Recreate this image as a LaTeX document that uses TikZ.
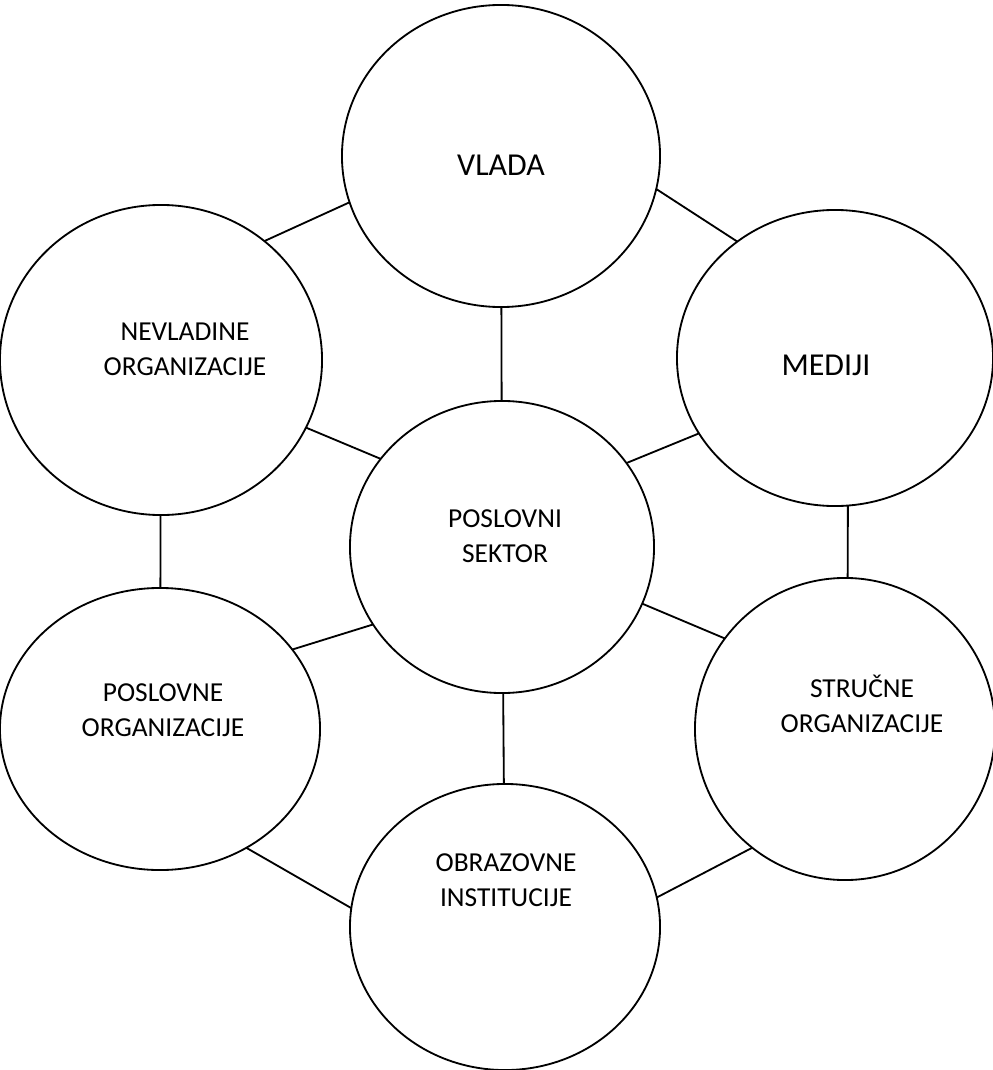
\documentclass[tikz,border=0pt]{standalone}
\usepackage{fontspec}
\setmainfont{Carlito}
\usetikzlibrary{shapes.geometric}
\tikzset{sector/.style={draw,ellipse,inner sep=0pt,outer sep=0pt,line width=1.3pt},
         caption/.style={align=center,font=\fontsize{19.5}{25}\selectfont},
         bigcaption/.style={align=center,font=\fontsize{22.7}{28}\selectfont},
         link/.style={line width=1.3pt},
         }

\begin{document}
\begin{tikzpicture}[x=0.025cm, y=-0.025cm]
\useasboundingbox (0,0) rectangle (992,1070);
\node[sector, minimum width=7.95cm, minimum height=7.55cm] (vlada) at (501,156) {};
\node[sector, minimum width=8.05cm, minimum height=7.75cm] (nevladine) at (161,360) {};
\node[sector, minimum width=7.9cm, minimum height=7.4cm] (mediji) at (835,358) {};
\node[sector, minimum width=7.6cm, minimum height=7.3cm] (sektor) at (502,547) {};
\node[sector, minimum width=8cm, minimum height=7.05cm] (poslovne) at (160,729) {};
\node[sector, minimum width=7.5cm, minimum height=7.55cm] (strucne) at (845,729) {};
\node[sector, minimum width=7.75cm, minimum height=7.15cm] (obrazovne) at (505,927) {};

\node[bigcaption] (vlada text) at (501,165) {VLADA};
\node[caption] (nevladine text) at (185,349) {NEVLADINE\\ORGANIZACIJE};
\node[bigcaption] (mediji text) at (826,365) {MEDIJI};
\node[caption] (sektor text) at (505,536) {POSLOVNI\\SEKTOR};
\node[caption] (poslovne text) at (163,710) {POSLOVNE\\ORGANIZACIJE};
\node[caption] (strucne text) at (862,704) {STRUČNE\\ORGANIZACIJE};
\node[caption] (obrazovne text) at (506,880) {OBRAZOVNE\\INSTITUCIJE};

\draw[link] (vlada.197) -- (nevladine.49);
\draw[link] (vlada.348) -- (mediji.130);
\draw[link] (vlada) -- (sektor);
\draw[link] (nevladine.335) -- (sektor.144);
\draw[link] (mediji.209) -- (sektor.34);
\draw[link] (nevladine) -- (poslovne);
\draw[link] (mediji.275) -- (strucne.89);
\draw[link] (sektor.211) -- (poslovne.31);
\draw[link] (sektor.338) -- (strucne.143);
\draw[link] (sektor) -- (obrazovne);
\draw[link] (poslovne.306) -- (obrazovne.173);
\draw[link] (strucne.232) -- (obrazovne.11);
\end{tikzpicture}
\end{document}
